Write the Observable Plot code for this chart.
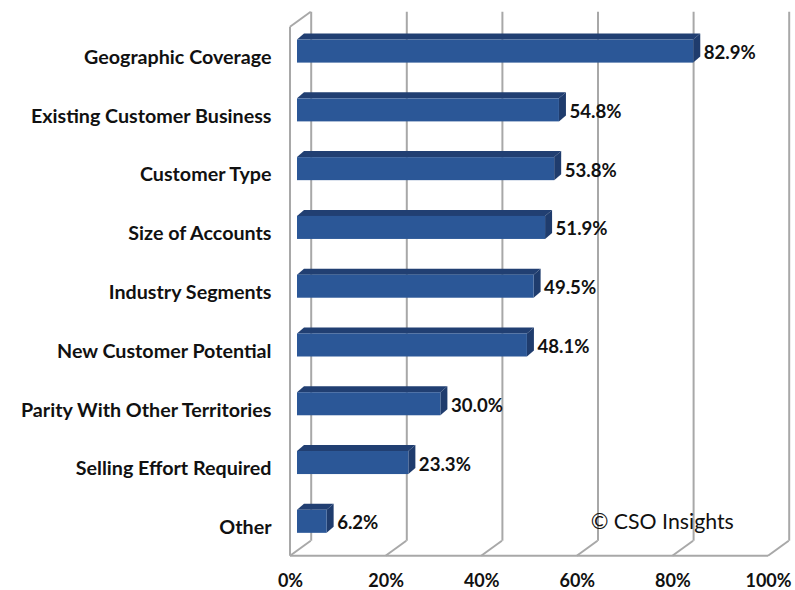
<!DOCTYPE html>
<html>
<head>
<meta charset="utf-8">
<script src="https://cdn.jsdelivr.net/npm/d3@7"></script>
<script src="https://cdn.jsdelivr.net/npm/@observablehq/plot@0.6"></script>
<style>
  html, body { margin: 0; padding: 0; background: #fff; }
  svg { display: block; }
</style>
</head>
<body>
<div id="chart"></div>
<script>
const categories = ["Geographic Coverage","Existing Customer Business","Customer Type","Size of Accounts","Industry Segments","New Customer Potential","Parity With Other Territories","Selling Effort Required","Other"];
const values = [82.9,54.8,53.8,51.9,49.5,48.1,30.0,23.3,6.2];
const xTicks = [0,20,40,60,80,100];
const copyright = "\u00A9 CSO Insights";

const table = categories.map((category, i) => ({category, value: values[i]}));

// oblique projection used by the 3-D look (pixels)
const wall = {dx: 20.7, dy: -15};
const barOffset = {dx: 7, dy: -5};
const barDepth = {dx: 7, dy: -6};
const gridColor = "#a8a8a8";
const font = "Lato, Carlito, sans-serif";

function svgEl(name, attrs) {
  const e = document.createElementNS("http://www.w3.org/2000/svg", name);
  for (const k in attrs) e.setAttribute(k, attrs[k]);
  return e;
}

// floor slants and the left wall's top edge, placed by the plot's scales
function wallEdges(index, scales, values, dims) {
  const g = svgEl("g", {stroke: gridColor, "stroke-width": 2, fill: "none"});
  const yb = dims.height - dims.marginBottom, yt = dims.marginTop;
  const line = (x1, y1, x2, y2) => g.appendChild(svgEl("line", {x1, y1, x2, y2}));
  for (const t of xTicks) {
    const x = scales.x(t);
    line(x, yb, x + wall.dx, yb + wall.dy);
  }
  const x0 = scales.x(0), x1 = scales.x(100);
  line(x0, yb, x1, yb);
  line(x0, yt, x0, yb);
  line(x0, yt, x0 + wall.dx, yt + wall.dy);
  return g;
}

// top and side faces of every bar
function barFaces(index, scales, values, dims) {
  const g = svgEl("g", {});
  const h = scales.y.bandwidth();
  const x0 = scales.x(0) + barOffset.dx;
  for (const d of table) {
    const x1 = scales.x(d.value) + barOffset.dx;
    const y = scales.y(d.category) + barOffset.dy;
    g.appendChild(svgEl("polygon", {fill: "#213f72",
      points: `${x0},${y} ${x0 + barDepth.dx},${y + barDepth.dy} ${x1 + barDepth.dx},${y + barDepth.dy} ${x1},${y}`}));
    g.appendChild(svgEl("polygon", {fill: "#1f3c6d",
      points: `${x1},${y} ${x1 + barDepth.dx},${y + barDepth.dy} ${x1 + barDepth.dx},${y + h + barDepth.dy} ${x1},${y + h}`}));
  }
  return g;
}

const plot = Plot.plot({
  width: 795,
  height: 590,
  marginTop: 26.7,
  marginBottom: 34.3,
  marginLeft: 290,
  marginRight: 27,
  style: {fontFamily: font, background: "#fff", overflow: "visible"},
  x: {domain: [0, 100], label: null},
  y: {domain: categories, label: null, paddingInner: 0.608, paddingOuter: 0.304, round: false},
  marks: [
    Plot.ruleX(xTicks, {x: d => d, dx: wall.dx, dy: wall.dy, stroke: gridColor, strokeWidth: 2}),
    wallEdges,
    barFaces,
    Plot.barX(table, {x1: 0, x2: "value", y: "category", fill: "#2b5797", dx: barOffset.dx, dy: barOffset.dy}),
    Plot.axisX({ticks: xTicks, tickSize: 0, tickPadding: 18.5, tickFormat: d => d + "%", fontSize: 18, fontWeight: 700, fill: "#111", label: null}),
    Plot.axisY({tickSize: 0, tickPadding: 19, fontSize: 19.7, fontWeight: 700, fill: "#111", dy: 1, label: null}),
    Plot.text(table, {x: "value", y: "category", text: d => d.value.toFixed(1) + "%", textAnchor: "start", dx: 17, dy: -3.4, fontSize: 18.6, fontWeight: 700, fill: "#111"}),
    Plot.text([copyright], {x: () => 62.8, y: () => categories[8], text: d => d, textAnchor: "start", dy: -5, fontSize: 21.3, fill: "#111"})
  ]
});
document.getElementById("chart").appendChild(plot);
</script>
</body>
</html>
